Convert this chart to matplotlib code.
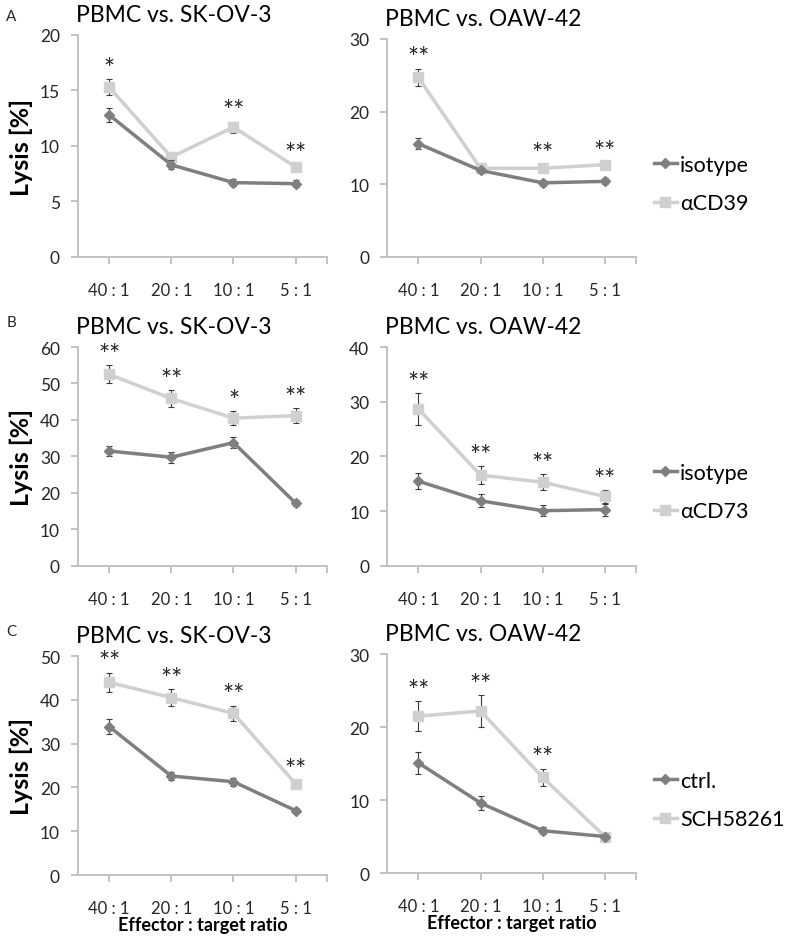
import matplotlib
matplotlib.use("Agg")
import matplotlib.pyplot as plt
from matplotlib.lines import Line2D

plt.rcParams['font.family'] = ['Lato', 'DejaVu Sans']

# categories
ratios = ["40 : 1", "20 : 1", "10 : 1", "5 : 1"]

# A: CD39 blocking
a_sk_iso = [12.8, 8.3, 6.7, 6.6]
a_sk_iso_err = [0.6, 0.4, 0.3, 0.3]
a_sk_ab = [15.3, 9.0, 11.7, 8.1]
a_sk_ab_err = [0.7, 0.3, 0.5, 0.3]
a_sk_stars = ["*", "", "**", "**"]

a_oaw_iso = [15.6, 11.9, 10.2, 10.4]
a_oaw_iso_err = [0.7, 0.4, 0.4, 0.4]
a_oaw_ab = [24.7, 12.2, 12.2, 12.7]
a_oaw_ab_err = [1.2, 0.4, 0.5, 0.4]
a_oaw_stars = ["**", "", "**", "**"]

# B: CD73 blocking
b_sk_iso = [31.5, 29.8, 33.8, 17.2]
b_sk_iso_err = [1.4, 1.5, 1.5, 0.8]
b_sk_ab = [52.5, 45.9, 40.5, 41.2]
b_sk_ab_err = [2.5, 2.3, 2.0, 2.0]
b_sk_stars = ["**", "**", "*", "**"]

b_oaw_iso = [15.5, 11.9, 10.1, 10.3]
b_oaw_iso_err = [1.5, 1.2, 1.0, 1.1]
b_oaw_ab = [28.7, 16.6, 15.3, 12.7]
b_oaw_ab_err = [2.9, 1.6, 1.5, 1.2]
b_oaw_stars = ["**", "**", "**", "**"]

# C: A2A receptor antagonist
c_sk_ctrl = [33.9, 22.6, 21.3, 14.7]
c_sk_ctrl_err = [1.7, 0.9, 0.9, 0.6]
c_sk_sch = [44.0, 40.5, 36.9, 20.8]
c_sk_sch_err = [2.2, 2.0, 1.8, 0.8]
c_sk_stars = ["**", "**", "**", "**"]

c_oaw_ctrl = [15.1, 9.6, 5.8, 5.0]
c_oaw_ctrl_err = [1.5, 0.9, 0.5, 0.3]
c_oaw_sch = [21.5, 22.2, 13.1, 5.0]
c_oaw_sch_err = [2.1, 2.2, 1.2, 0.3]
c_oaw_stars = ["**", "**", "**", ""]

dark = "#7f7f7f"
light = "#d0d0d0"
axcol = "#bdbdbd"
txtcol = "#262626"

fig = plt.figure(figsize=(8, 9.37), dpi=100)


def panel(rect, title, iso, iso_err, ab, ab_err, stars, ymax, ystep, ylabel):
    ax = fig.add_axes(rect)
    x = list(range(len(ratios)))
    ax.errorbar(x, iso, yerr=iso_err, color=dark, lw=2.5, marker="D", ms=5.5,
                ecolor="#3a3a3a", elinewidth=0.8, capsize=2, capthick=0.8, zorder=3)
    ax.errorbar(x, ab, yerr=ab_err, color=light, lw=2.5, marker="s", ms=6.5,
                ecolor="#3a3a3a", elinewidth=0.8, capsize=2, capthick=0.8, zorder=2)
    for i, s in enumerate(stars):
        if s:
            ax.annotate(s, (i, ab[i] + ab_err[i]), xytext=(0, -2), textcoords="offset points",
                        ha="center", va="bottom", fontsize=19, color=txtcol)
    ax.set_xlim(-0.5, 3.5)
    ax.set_ylim(0, ymax)
    ax.set_yticks(range(0, ymax + 1, ystep))
    ax.set_xticks(x)
    ax.set_xticklabels(ratios)
    ax.set_xticks([3.5], minor=True)
    for sp in ["top", "right"]:
        ax.spines[sp].set_visible(False)
    for sp in ["left", "bottom"]:
        ax.spines[sp].set_color(axcol)
        ax.spines[sp].set_linewidth(1.3)
    ax.tick_params(axis="x", which="both", length=5, color=axcol, width=1.3, pad=13,
                   labelsize=12, labelcolor=txtcol)
    ax.tick_params(axis="y", length=5, color=axcol, width=1.3, pad=8,
                   labelsize=12.5, labelcolor=txtcol)
    ax.set_title(title, loc="left", fontsize=16.5, color="black", pad=10, x=-0.01)
    if ylabel:
        ax.set_ylabel("Lysis [%]", fontsize=18, fontweight="bold", labelpad=5)
    return ax


def add_legend(ax, lab1, lab2, ypos):
    h = [Line2D([], [], color=dark, lw=2.5, marker="D", ms=5.5),
         Line2D([], [], color=light, lw=2.5, marker="s", ms=6.5)]
    ax.legend(h, [lab1, lab2], loc="center left", bbox_to_anchor=(0.817, ypos),
              bbox_transform=fig.transFigure, frameon=False, fontsize=15.5,
              borderpad=0, borderaxespad=0,
              handlelength=1.1, handletextpad=0.12, labelspacing=0.85)


L1, W = 0.0975, 0.311
R1 = 0.484

panel([L1, 0.7247, W, 0.2369], "PBMC vs. SK-OV-3", a_sk_iso, a_sk_iso_err,
      a_sk_ab, a_sk_ab_err, a_sk_stars, 20, 5, True)
ax = panel([R1, 0.7247, W, 0.2327], "PBMC vs. OAW-42", a_oaw_iso, a_oaw_iso_err,
           a_oaw_ab, a_oaw_ab_err, a_oaw_stars, 30, 10, False)
add_legend(ax, "isotype", "αCD39", 0.8026)

panel([L1, 0.3949, W, 0.2337], "PBMC vs. SK-OV-3", b_sk_iso, b_sk_iso_err,
      b_sk_ab, b_sk_ab_err, b_sk_stars, 60, 10, True)
ax = panel([R1, 0.3949, W, 0.2337], "PBMC vs. OAW-42", b_oaw_iso, b_oaw_iso_err,
           b_oaw_ab, b_oaw_ab_err, b_oaw_stars, 40, 10, False)
add_legend(ax, "isotype", "αCD73", 0.4739)

ax = panel([L1, 0.0651, W, 0.2337], "PBMC vs. SK-OV-3", c_sk_ctrl, c_sk_ctrl_err,
           c_sk_sch, c_sk_sch_err, c_sk_stars, 50, 10, True)
ax.set_xlabel("Effector : target ratio", fontsize=13, fontweight="bold", labelpad=0)
ax = panel([R1, 0.0672, W, 0.2337], "PBMC vs. OAW-42", c_oaw_ctrl, c_oaw_ctrl_err,
           c_oaw_sch, c_oaw_sch_err, c_oaw_stars, 30, 10, False)
ax.set_xlabel("Effector : target ratio", fontsize=13, fontweight="bold", labelpad=0)
add_legend(ax, "ctrl.", "SCH58261", 0.1451)

for letter, yy in [("A", 0.982), ("B", 0.655), ("C", 0.325)]:
    fig.text(0.008, yy, letter, fontsize=11, color=txtcol, va="center")

fig.savefig("out.png", dpi=100)
